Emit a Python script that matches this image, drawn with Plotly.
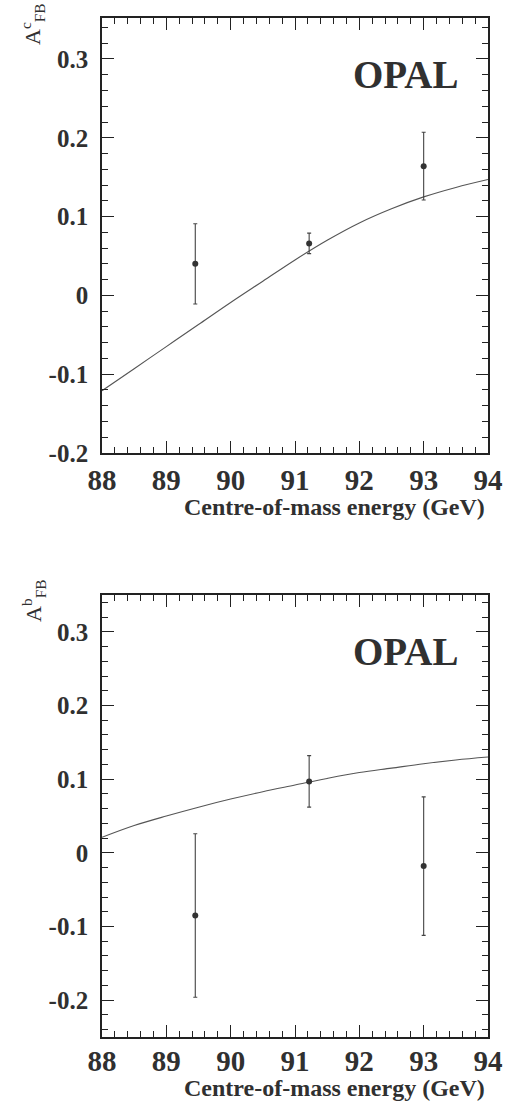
import plotly.graph_objects as go

# Measured forward-backward asymmetries (charm, top; bottom, lower)
energy_pts = [89.45, 91.22, 93.0]
afb_c = [0.040, 0.066, 0.164]
afb_c_err = [0.051, 0.013, 0.043]
afb_b = [-0.085, 0.097, -0.018]
afb_b_err = [0.111, 0.035, 0.094]

# Standard Model expectation
energy_curve = [88.0, 88.5, 89.0, 89.5, 90.0, 90.5, 91.0, 91.5, 92.0, 92.5, 93.0, 93.5, 94.0]
sm_c = [-0.121, -0.093, -0.065, -0.037, -0.009, 0.018, 0.045, 0.070, 0.092, 0.110, 0.125, 0.137, 0.147]
sm_b = [0.021, 0.037, 0.050, 0.062, 0.073, 0.083, 0.092, 0.101, 0.109, 0.115, 0.121, 0.126, 0.130]

xtick_vals = [88, 89, 90, 91, 92, 93, 94]
xtick_text = ["88", "89", "90", "91", "92", "93", "94"]
ytick_vals = [-0.2, -0.1, 0.0, 0.1, 0.2, 0.3]
ytick_text = ["-0.2", "-0.1", "0", "0.1", "0.2", "0.3"]

SERIF = "Liberation Serif"
INK = "#222222"
TXT = "#303030"

W, H = 515, 1104
ML, MR, MT, MB = 102, 16, 18, 67
plot_h = H - MT - MB
plot_w = W - ML - MR


def py(px_from_top):
    return (H - MB - px_from_top) / plot_h


def pxx(px_from_left):
    return (px_from_left - ML) / plot_w


fig = go.Figure()

panels = [
    # (x axis, y axis, values, errors, curve, y range, y domain, x label standoff)
    ("x", "y", afb_c, afb_c_err, sm_c, [-0.2, 0.352], [py(453), 1.0], 0),
    ("x2", "y2", afb_b, afb_b_err, sm_b, [-0.25, 0.35], [0.0, py(595)], -3),
]

for i, (xa, ya, vals, errs, curve, yr, dom, _) in enumerate(panels):
    # transparent copy on the overlaid minor-tick axes so they get drawn
    fig.add_trace(go.Scatter(
        x=energy_curve, y=curve, mode="markers",
        xaxis="x" + str(i + 3), yaxis="y" + str(i + 3),
        marker=dict(size=1, opacity=0), showlegend=False, hoverinfo="skip"))
    fig.add_trace(go.Scatter(
        x=energy_curve, y=curve, mode="lines", xaxis=xa, yaxis=ya,
        line=dict(color="#555555", width=1.1, shape="spline", smoothing=1.0),
        showlegend=False, hoverinfo="skip"))
    fig.add_trace(go.Scatter(
        x=energy_pts, y=vals, mode="markers", xaxis=xa, yaxis=ya,
        marker=dict(color="#333333", size=6),
        error_y=dict(type="data", array=errs, visible=True, color="#444444",
                     thickness=1.1, width=2),
        showlegend=False))

layout_axes = {}
for i, (xa, ya, vals, errs, curve, yr, dom, xstand) in enumerate(panels):
    sfx = "" if i == 0 else str(i + 1)
    # labelled axes with long (major) ticks
    layout_axes["xaxis" + sfx] = dict(
        domain=[0, 1], anchor=ya, range=[88, 94],
        tickmode="array", tickvals=xtick_vals, ticktext=xtick_text,
        showline=True, linecolor=INK, linewidth=1.6, mirror="ticks",
        ticks="inside", tickcolor=INK, tickwidth=1.2, ticklen=12,
        showgrid=False, zeroline=False, ticklabelstandoff=xstand,
        tickfont=dict(family=SERIF, size=29, color=TXT, weight="bold"))
    layout_axes["yaxis" + sfx] = dict(
        domain=dom, anchor=xa, range=yr,
        tickmode="array", tickvals=ytick_vals, ticktext=ytick_text,
        showline=True, linecolor=INK, linewidth=1.6, mirror="ticks",
        ticks="inside", tickcolor=INK, tickwidth=1.2, ticklen=12,
        showgrid=False, zeroline=False, ticklabelstandoff=7,
        tickfont=dict(family=SERIF, size=25, color=TXT, weight="bold"))
    # overlaid unlabelled axes carrying the short (minor) ticks
    mx = "xaxis" + str(i + 3)
    my = "yaxis" + str(i + 3)
    layout_axes[mx] = dict(
        domain=[0, 1], anchor="y" + str(i + 3), side="bottom", range=[88, 94],
        tickmode="linear", tick0=88, dtick=0.2,
        ticks="inside", ticklen=6, tickwidth=1.0, tickcolor=INK,
        mirror="ticks", showline=False, showticklabels=False,
        showgrid=False, zeroline=False)
    layout_axes[my] = dict(
        domain=dom, anchor="x" + str(i + 3), side="left", range=yr,
        tickmode="linear", tick0=0, dtick=0.02,
        ticks="inside", ticklen=6, tickwidth=1.0, tickcolor=INK,
        mirror="ticks", showline=False, showticklabels=False,
        showgrid=False, zeroline=False)

annotations = []
for label, y_title, y_opal, y_sym in [("c", 507, 74, 24), ("b", 1088, 651, 601)]:
    annotations.append(dict(
        text="Centre-of-mass energy (GeV)", xref="paper", yref="paper",
        x=pxx(498), y=py(y_title), xanchor="right", yanchor="middle",
        showarrow=False, font=dict(family=SERIF, size=24, color=TXT, weight="bold")))
    annotations.append(dict(
        text="OPAL", xref="paper", yref="paper",
        x=pxx(414), y=py(y_opal), xanchor="center", yanchor="middle",
        showarrow=False, font=dict(family=SERIF, size=39, color=TXT, weight="bold")))
    annotations.append(dict(
        text="A<sup>%s</sup><sub>FB</sub>" % label, xref="paper", yref="paper",
        x=pxx(31), y=py(y_sym), xanchor="center", yanchor="middle", textangle=-90,
        showarrow=False, font=dict(family=SERIF, size=22, color=TXT)))

fig.update_layout(
    width=W, height=H,
    margin=dict(l=ML, r=MR, t=MT, b=MB),
    paper_bgcolor="rgba(0,0,0,0)", plot_bgcolor="rgba(0,0,0,0)",
    annotations=annotations,
    font=dict(family=SERIF, color=TXT),
    **layout_axes,
)

fig.write_html("out.html")
